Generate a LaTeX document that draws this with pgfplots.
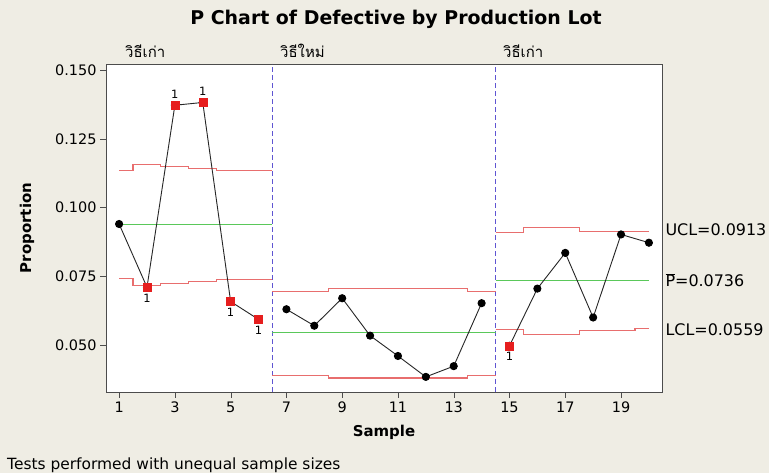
\documentclass[border=0pt]{standalone}
\usepackage{fontspec}
\setmainfont{DejaVu Sans}
\newfontfamily\thaifont[Script=Thai]{Loma}
\usepackage{pgfplots}
\pgfplotsset{compat=1.18}
\definecolor{bg}{RGB}{239,237,228}
\definecolor{limred}{RGB}{232,110,110}
\definecolor{cgreen}{RGB}{90,200,90}
\definecolor{divblue}{RGB}{95,85,210}
\definecolor{ptred}{RGB}{230,30,30}
\begin{document}
\begin{tikzpicture}[x=1bp,y=1bp]
\fill[bg] (0,0) rectangle (769,473);
\begin{axis}[
  at={(106bp,81bp)}, anchor=south west,
  scale only axis, width=556bp, height=328bp,
  xmin=0.53, xmax=20.47, ymin=0.0329, ymax=0.1522,
  axis background/.style={fill=white},
  axis line style={draw=black!70},
  xtick={1,3,5,7,9,11,13,15,17,19},
  ytick={0.05,0.075,0.1,0.125,0.15},
  scaled y ticks=false,
  /pgf/number format/assume math mode=true,
  y tick label style={/pgf/number format/fixed,/pgf/number format/fixed zerofill,/pgf/number format/precision=3},
  tick label style={font=\fontsize{14.5}{16}\selectfont},
  xtick pos=bottom, ytick pos=left, tick align=outside,
  major tick length=6bp, tick style={draw=black!70},
  xlabel={\bfseries Sample},
  xlabel style={font=\fontsize{15}{17}\selectfont, at={(axis description cs:0.5,-0.123)}, anchor=center},
  ylabel={\bfseries Proportion},
  ylabel style={font=\fontsize{15}{17}\selectfont, at={(axis description cs:-0.142,0.5)}, anchor=center},
  clip=false,
]
% dividers
\addplot[divblue, line width=1bp, dash pattern=on 5bp off 3bp] coordinates {(6.5,0.0329) (6.5,0.1522)};
\addplot[divblue, line width=1bp, dash pattern=on 5bp off 3bp] coordinates {(14.5,0.0329) (14.5,0.1522)};
% group 1 limits
\addplot[limred, line width=1.1bp, const plot] coordinates {(1,0.1134) (1.5,0.1155) (2.5,0.1149) (3.5,0.1142) (4.5,0.1136) (6.5,0.1136)};
\addplot[limred, line width=1.1bp, const plot] coordinates {(1,0.0741) (1.5,0.0717) (2.5,0.0725) (3.5,0.0731) (4.5,0.0738) (6.5,0.0738)};
\addplot[cgreen, line width=1.3bp] coordinates {(1,0.0937) (6.5,0.0937)};
% group 2 limits
\addplot[limred, line width=1.1bp, const plot] coordinates {(6.5,0.0695) (8.5,0.0705) (13.5,0.0695) (14.5,0.0695)};
\addplot[limred, line width=1.1bp, const plot] coordinates {(6.5,0.0390) (8.5,0.0380) (13.5,0.0390) (14.5,0.0390)};
\addplot[cgreen, line width=1.3bp] coordinates {(6.5,0.0545) (14.5,0.0545)};
% group 3 limits
\addplot[limred, line width=1.1bp, const plot] coordinates {(14.5,0.0908) (15.5,0.0927) (17.5,0.0913) (20,0.0913)};
\addplot[limred, line width=1.1bp, const plot] coordinates {(14.5,0.0557) (15.5,0.0537) (17.5,0.0552) (19.5,0.0559) (20,0.0559)};
\addplot[cgreen, line width=1.1bp] coordinates {(14.5,0.0736) (20,0.0736)};
% data lines
\addplot[black!85, line width=0.9bp, mark=*, mark size=3.6bp, mark options={fill=black,draw=black}] coordinates {(1,0.0940) (2,0.0710) (3,0.1372) (4,0.1382) (5,0.0658) (6,0.0593)};
\addplot[black!85, line width=0.9bp, mark=*, mark size=3.6bp, mark options={fill=black,draw=black}] coordinates {(7,0.0630) (8,0.0570) (9,0.0670) (10,0.0534) (11,0.0460) (12,0.0384) (13,0.0423) (14,0.0652)};
\addplot[black!85, line width=0.9bp, mark=*, mark size=3.6bp, mark options={fill=black,draw=black}] coordinates {(15,0.0497) (16,0.0705) (17,0.0835) (18,0.0600) (19,0.0902) (20,0.0872)};
% out of control points
\addplot[only marks, mark=square*, mark size=4bp, draw=ptred, fill=ptred,
  nodes near coords={1}, nodes near coords style={anchor=south, yshift=3bp, font=\fontsize{11.5}{12}\selectfont, text=black}]
  coordinates {(3,0.1372) (4,0.1382)};
\addplot[only marks, mark=square*, mark size=4bp, draw=ptred, fill=ptred,
  nodes near coords={1}, nodes near coords style={anchor=north, yshift=-3bp, font=\fontsize{11.5}{12}\selectfont, text=black}]
  coordinates {(2,0.0710) (5,0.0658) (6,0.0593) (15,0.0497)};
% right labels
\node[anchor=west, font=\fontsize{16}{18}\selectfont] at (axis cs:20.47,0.0918) {UCL=0.0913};
\node[anchor=west, font=\fontsize{16}{18}\selectfont] at (axis cs:20.47,0.0736) {$\overline{\hbox{P}}$=0.0736};
\node[anchor=west, font=\fontsize{16}{18}\selectfont] at (axis cs:20.47,0.0555) {LCL=0.0559};
\end{axis}
\node[anchor=base, font=\fontsize{19}{22}\selectfont\bfseries] at (396,448.7) {P Chart of Defective by Production Lot};
\node[anchor=base west, inner sep=0pt, font=\fontsize{15}{17}\selectfont\thaifont] at (125,415) {วิธีเก่า};
\node[anchor=base west, inner sep=0pt, font=\fontsize{15}{17}\selectfont\thaifont] at (280,415) {วิธีใหม่};
\node[anchor=base west, inner sep=0pt, font=\fontsize{15}{17}\selectfont\thaifont] at (503,415) {วิธีเก่า};
\node[anchor=base west, inner sep=0pt, font=\fontsize{15.5}{17}\selectfont] at (7,3.5) {Tests performed with unequal sample sizes};
\pgfresetboundingbox
\path[use as bounding box] (0,0) rectangle (769,473);
\end{tikzpicture}
\end{document}
